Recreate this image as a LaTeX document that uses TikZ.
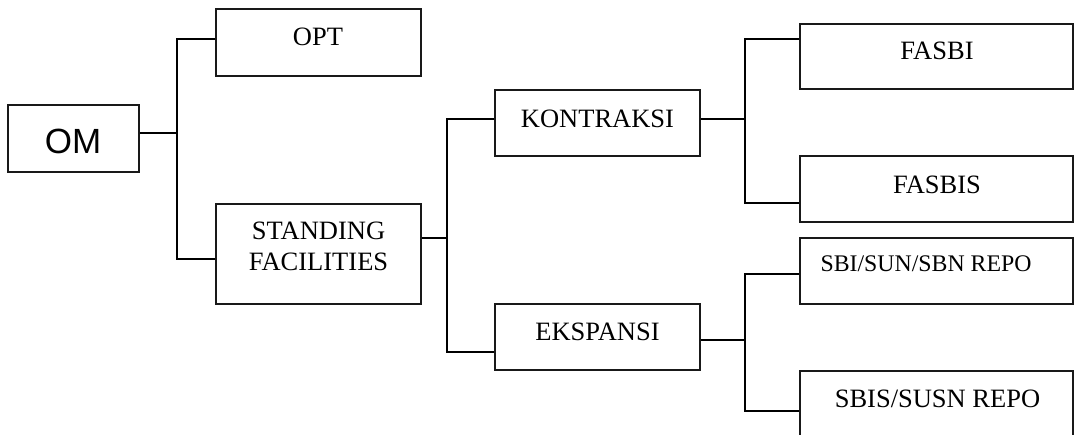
\documentclass[tikz,border=0pt]{standalone}
\usepackage{fontspec}
\setmainfont{Liberation Serif}
\newfontfamily\arialfont{Liberation Sans}
\begin{document}
\begin{tikzpicture}[x=1pt,y=-1pt,
  box/.style={draw=black!90, line width=2pt, inner sep=0pt, rectangle},
  conn/.style={draw=black, line width=2pt},
  lbl/.style={anchor=base, inner sep=0pt, font=\fontsize{26.5}{30}\selectfont},
  lblsmall/.style={anchor=base, inner sep=0pt, font=\fontsize{23.8}{28}\selectfont},
  lblom/.style={anchor=base, inner sep=0pt, font=\arialfont\fontsize{35}{40}\selectfont}]
\useasboundingbox (0,0) rectangle (1075,434);
\clip (0,0) rectangle (1075,434);
% boxes
\node[box, minimum width=131pt, minimum height=67pt] (om) at (73.5,138.5) {};
\node[box, minimum width=205pt, minimum height=67pt] (opt) at (318.5,42.5) {};
\node[box, minimum width=205pt, minimum height=100pt] (sf) at (318.5,254) {};
\node[box, minimum width=205pt, minimum height=66pt] (kon) at (597.5,123) {};
\node[box, minimum width=205pt, minimum height=66pt] (eks) at (597.5,337) {};
\node[box, minimum width=273pt, minimum height=65pt] (fasbi) at (936.5,56.5) {};
\node[box, minimum width=273pt, minimum height=66pt] (fasbis) at (936.5,189) {};
\node[box, minimum width=273pt, minimum height=66pt] (sbi) at (936.5,271) {};
\node[box, minimum width=273pt, minimum height=100pt] (sbis) at (936.5,421) {};
% labels
\node[lblom] (tom) at (73,153) {OM};
\node[lbl] (topt) at (318,45) {OPT};
\node[lbl] (tsf1) at (318.5,239) {STANDING};
\node[lbl] (tsf2) at (318.5,270) {FACILITIES};
\node[lbl] (tkon) at (597.5,127) {KONTRAKSI};
\node[lbl] (teks) at (597.5,340) {EKSPANSI};
\node[lbl] (tfasbi) at (937,59) {FASBI};
\node[lbl] (tfasbis) at (937,193) {FASBIS};
\node[lblsmall] (tsbi) at (926,271) {SBI/SUN/SBN REPO};
\node[lbl] (tsbis) at (937.5,407) {SBIS/SUSN REPO};
% junction coordinates
\coordinate (j1) at (177,133);
\coordinate (t1top) at (177,39);
\coordinate (t1bot) at (177,259);
\coordinate (j2) at (447,238);
\coordinate (t2top) at (447,119);
\coordinate (t2bot) at (447,352);
\coordinate (j3) at (745,119);
\coordinate (t3top) at (745,39);
\coordinate (t3bot) at (745,203);
\coordinate (j4) at (745,340);
\coordinate (t4top) at (745,274);
\coordinate (t4bot) at (745,411);
% connectors
\draw[conn] (om.east |- j1) -- (j1);
\draw[conn] (opt.west |- t1top) -- (t1top) -- (t1bot) -- (sf.west |- t1bot);
\draw[conn] (sf.east |- j2) -- (j2);
\draw[conn] (kon.west |- t2top) -- (t2top) -- (t2bot) -- (eks.west |- t2bot);
\draw[conn] (kon.east |- j3) -- (j3);
\draw[conn] (fasbi.west |- t3top) -- (t3top) -- (t3bot) -- (fasbis.west |- t3bot);
\draw[conn] (eks.east |- j4) -- (j4);
\draw[conn] (sbi.west |- t4top) -- (t4top) -- (t4bot) -- (sbis.west |- t4bot);
\end{tikzpicture}
\end{document}
